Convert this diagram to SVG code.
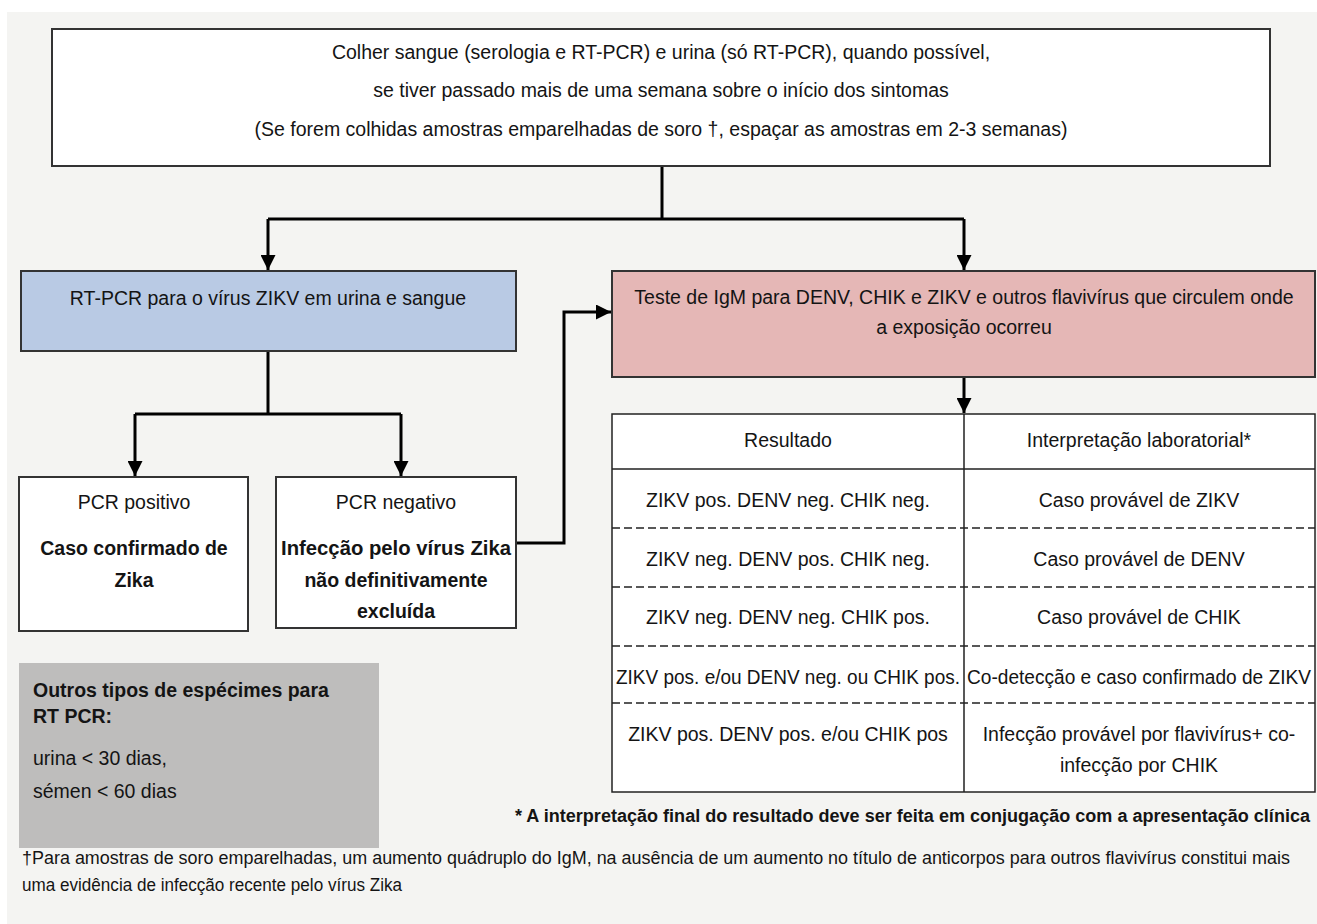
<svg xmlns="http://www.w3.org/2000/svg" width="1317" height="924" viewBox="0 0 1317 924">
<style>
.t{font-family:"Liberation Sans",Arial,sans-serif;font-size:19.5px;fill:#141414}
.c{text-anchor:middle}
.b{font-weight:bold}
.box{fill:#ffffff;stroke:#333333;stroke-width:2}
.con{fill:none;stroke:#000000;stroke-width:3}
.grid{stroke:#222222;stroke-width:1.5;fill:none}
.dash{stroke:#222222;stroke-width:1.5;stroke-dasharray:8 4;fill:none}
</style>
<defs>
<marker id="ah" markerUnits="userSpaceOnUse" markerWidth="15" markerHeight="15" refX="15" refY="7.5" orient="auto">
<path d="M0,0 L15,7.5 L0,15 z" fill="#000"/>
</marker>
</defs>
<rect x="0" y="0" width="1317" height="924" fill="#ffffff"/>
<rect x="7" y="12" width="1310" height="912" fill="#f4f4f2"/>

<g id="connectors">
<path class="con" d="M662,166 V219"/>
<path class="con" d="M268,219 H964"/>
<path class="con" d="M268,219 V270" marker-end="url(#ah)"/>
<path class="con" d="M964,219 V270" marker-end="url(#ah)"/>
<path class="con" d="M268,351 V414 M135,414 H401"/>
<path class="con" d="M135,414 V476" marker-end="url(#ah)"/>
<path class="con" d="M401,414 V476" marker-end="url(#ah)"/>
<path class="con" d="M517,543 H564 V312 H611" marker-end="url(#ah)"/>
<path class="con" d="M964,377 V413" marker-end="url(#ah)"/>
</g>

<g id="top">
<rect class="box" x="52" y="29" width="1218" height="137"/>
<text class="t c" x="661" y="59">Colher sangue (serologia e RT-PCR) e urina (só RT-PCR), quando possível,</text>
<text class="t c" x="661" y="97">se tiver passado mais de uma semana sobre o início dos sintomas</text>
<text class="t c" x="661" y="136">(Se forem colhidas amostras emparelhadas de soro †, espaçar as amostras em 2-3 semanas)</text>
</g>

<g id="rtpcr">
<rect x="21" y="271" width="495" height="80" fill="#b9cae4" stroke="#333" stroke-width="2"/>
<text class="t c" x="268" y="305">RT-PCR para o vírus ZIKV em urina e sangue</text>
</g>

<g id="igm">
<rect x="612" y="271" width="703" height="106" fill="#e5b7b6" stroke="#333" stroke-width="2"/>
<text class="t c" x="964" y="304">Teste de IgM para DENV, CHIK e ZIKV e outros flavivírus que circulem onde</text>
<text class="t c" x="964" y="334">a exposição ocorreu</text>
</g>

<g id="pcrpos">
<rect class="box" x="19" y="477" width="229" height="154"/>
<text class="t c" x="134" y="509">PCR positivo</text>
<text class="t c b" x="134" y="555">Caso confirmado de</text>
<text class="t c b" x="134" y="587">Zika</text>
</g>

<g id="pcrneg">
<rect class="box" x="276" y="477" width="240" height="151"/>
<text class="t c" x="396" y="509">PCR negativo</text>
<text class="t c b" x="396" y="555" textLength="230" lengthAdjust="spacingAndGlyphs">Infecção pelo vírus Zika</text>
<text class="t c b" x="396" y="587">não definitivamente</text>
<text class="t c b" x="396" y="618">excluída</text>
</g>

<g id="outros">
<rect x="19" y="663" width="360" height="185" fill="#bebdbc"/>
<text class="t b" x="33" y="697">Outros tipos de espécimes para</text>
<text class="t b" x="33" y="723">RT PCR:</text>
<text class="t" x="33" y="765">urina &lt; 30 dias,</text>
<text class="t" x="33" y="798">sémen &lt; 60 dias</text>
</g>

<g id="tabela">
<rect x="612" y="414" width="703" height="378" fill="#ffffff" stroke="#222" stroke-width="1.5"/>
<path class="grid" d="M964,414 V792 M612,469 H1315"/>
<path class="dash" d="M612,528 H1315 M612,587 H1315 M612,646 H1315 M612,703 H1315"/>
<text class="t c" x="788" y="447">Resultado</text>
<text class="t c" x="1139" y="447">Interpretação laboratorial*</text>
<text class="t c" x="788" y="507">ZIKV pos. DENV neg. CHIK neg.</text>
<text class="t c" x="1139" y="507">Caso provável de ZIKV</text>
<text class="t c" x="788" y="566">ZIKV neg. DENV pos. CHIK neg.</text>
<text class="t c" x="1139" y="566">Caso provável de DENV</text>
<text class="t c" x="788" y="624">ZIKV neg. DENV neg. CHIK pos.</text>
<text class="t c" x="1139" y="624">Caso provável de CHIK</text>
<text class="t c" x="788" y="684" textLength="344" lengthAdjust="spacingAndGlyphs">ZIKV pos. e/ou DENV neg. ou CHIK pos.</text>
<text class="t c" x="1139" y="684" textLength="344" lengthAdjust="spacingAndGlyphs">Co-detecção e caso confirmado de ZIKV</text>
<text class="t c" x="788" y="741">ZIKV pos. DENV pos. e/ou CHIK pos</text>
<text class="t c" x="1139" y="741">Infecção provável por flavivírus+ co-</text>
<text class="t c" x="1139" y="772">infecção por CHIK</text>
</g>

<g id="notas">
<text class="t b" x="515" y="822" style="font-size:17.5px" textLength="795" lengthAdjust="spacingAndGlyphs">* A interpretação final do resultado deve ser feita em conjugação com a apresentação clínica</text>
<text class="t" x="22" y="864" style="font-size:17.5px" textLength="1268" lengthAdjust="spacingAndGlyphs">†Para amostras de soro emparelhadas, um aumento quádruplo do IgM, na ausência de um aumento no título de anticorpos para outros flavivírus constitui mais</text>
<text class="t" x="22" y="891" style="font-size:17.5px" textLength="380" lengthAdjust="spacingAndGlyphs">uma evidência de infecção recente pelo vírus Zika</text>
</g>
</svg>
